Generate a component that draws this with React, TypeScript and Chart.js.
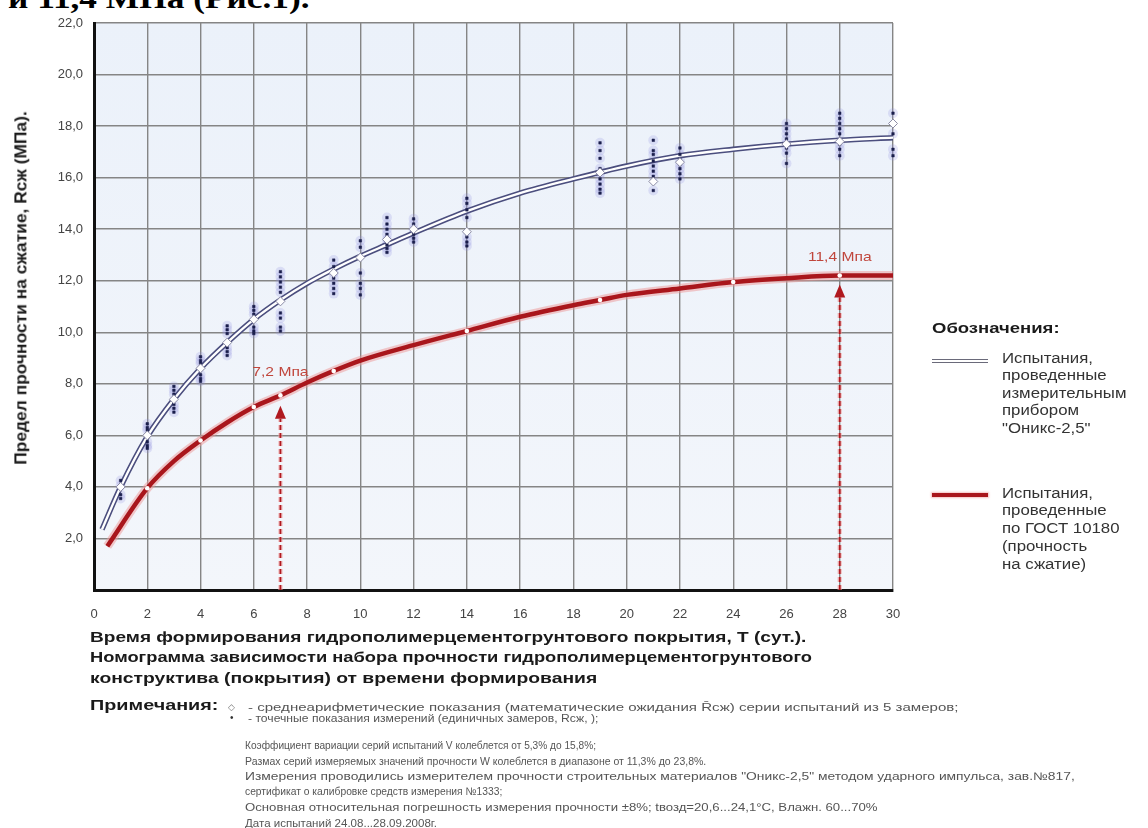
import React, { useEffect, useLayoutEffect, useRef, useState } from 'react';
import { Chart, registerables } from 'chart.js';

Chart.register(...registerables);

// ---- axes ----
const xMin = 0;
const xMax = 30;
const xStep = 2;
const yMin = 0;
const yMax = 22;
const yStep = 2;

// ---- "Оникс-2,5" fitted curve ----
const onyxX = [0.3, 1, 2, 3, 4, 5, 6, 7, 8, 9, 10, 11, 12, 14, 16, 18, 20, 22, 24, 26, 28, 30];
const onyxY = [2.35, 4.0, 5.95, 7.4, 8.6, 9.6, 10.5, 11.25, 11.9, 12.45, 12.95, 13.4, 13.85, 14.7, 15.4, 15.95, 16.45, 16.85, 17.1, 17.3, 17.45, 17.55];

// ---- ГОСТ 10180 curve ----
const gostX = [0.5, 2, 3, 4, 5, 6, 7, 8, 9, 10, 12, 14, 16, 18, 19, 20, 22, 24, 26, 28, 30];
const gostY = [1.7, 3.95, 5.0, 5.8, 6.5, 7.1, 7.55, 8.05, 8.5, 8.9, 9.5, 10.05, 10.6, 11.05, 11.25, 11.45, 11.7, 11.95, 12.1, 12.2, 12.2];
const gostBreakX = [2, 4, 6, 7, 9, 14, 19, 24, 28];

// ---- measurement series (single readings and means) ----
const seriesX = [1, 2, 3, 4, 5, 6, 7, 9, 10, 11, 12, 14, 19, 21, 22, 26, 28, 30];
const seriesReadings = [
  [4.25, 4.05, 3.7, 3.55],
  [6.45, 6.3, 6.2, 5.75, 5.6, 5.5],
  [7.9, 7.75, 7.6, 7.2, 7.05, 6.9],
  [9.05, 8.9, 8.8, 8.35, 8.2, 8.1],
  [10.25, 10.1, 9.95, 9.4, 9.25, 9.1],
  [11.0, 10.85, 10.7, 10.2, 10.05, 9.95],
  [12.35, 12.15, 11.95, 11.75, 11.55, 10.75, 10.55, 10.2, 10.05],
  [12.8, 12.55, 12.3, 12.1, 11.9, 11.7, 11.5],
  [13.55, 13.3, 12.3, 11.9, 11.7, 11.45],
  [14.45, 14.2, 14.0, 13.8, 13.6, 13.4, 13.25, 13.1],
  [14.4, 14.2, 14.0, 13.8, 13.65, 13.5],
  [15.2, 15.0, 14.75, 14.45, 13.7, 13.5, 13.35],
  [17.35, 17.05, 16.75, 16.35, 16.15, 15.95, 15.75, 15.55, 15.4],
  [17.45, 17.05, 16.9, 16.65, 16.45, 16.25, 16.05, 15.5],
  [17.15, 16.9, 16.7, 16.5, 16.35, 16.15, 15.95],
  [18.1, 17.9, 17.7, 17.5, 17.3, 17.15, 16.95, 16.55],
  [18.5, 18.3, 18.1, 17.9, 17.7, 17.3, 17.1, 16.85],
  [18.5, 17.7, 17.1, 16.85],
];
const seriesMeans = [4.0, 6.0, 7.4, 8.6, 9.6, 10.5, 11.2, 12.3, 12.9, 13.6, 14.0, 13.9, 16.2, 15.85, 16.6, 17.3, 17.4, 18.1];

// ---- arrows with annotations ----
const markerX = [7, 28];
const markerTip = [7.15, 11.85];
const markerLabel = ['7,2 Мпа', '11,4 Мпа'];
const markerLabelY = [8.45, 12.9];

const SANS = '"Liberation Sans", Arial, sans-serif';

const pts = (xs: number[], ys: number[]) => xs.map((x, i) => ({ x, y: ys[i] }));

const bgPlugin = {
  id: 'plotBg',
  beforeDraw(chart: any) {
    const { ctx, chartArea: a } = chart;
    ctx.save();
    const g = ctx.createLinearGradient(0, a.top, 0, a.bottom);
    g.addColorStop(0, '#ebf1fa');
    g.addColorStop(1, '#f3f6fb');
    ctx.fillStyle = g;
    ctx.fillRect(a.left, a.top, a.right - a.left, a.bottom - a.top);
    ctx.restore();
  },
};

const arrowPlugin = {
  id: 'arrows',
  afterDatasetsDraw(chart: any) {
    const { ctx } = chart;
    const xs = chart.scales.x;
    const ys = chart.scales.y;
    markerX.forEach((mx, i) => {
      const px = xs.getPixelForValue(mx);
      const py0 = ys.getPixelForValue(0);
      const pt = ys.getPixelForValue(markerTip[i]);
      const headH = 13;
      const headW = 5.5;
      ctx.save();
      ctx.setLineDash([5, 3]);
      ctx.strokeStyle = 'rgba(240,160,160,0.55)';
      ctx.lineWidth = 4.5;
      ctx.beginPath();
      ctx.moveTo(px, py0);
      ctx.lineTo(px, pt + headH);
      ctx.stroke();
      ctx.strokeStyle = '#b0191f';
      ctx.lineWidth = 1.8;
      ctx.beginPath();
      ctx.moveTo(px, py0);
      ctx.lineTo(px, pt + headH);
      ctx.stroke();
      ctx.setLineDash([]);
      ctx.fillStyle = '#b0191f';
      ctx.beginPath();
      ctx.moveTo(px, pt);
      ctx.lineTo(px - headW, pt + headH);
      ctx.lineTo(px + headW, pt + headH);
      ctx.closePath();
      ctx.fill();
      ctx.translate(px, ys.getPixelForValue(markerLabelY[i]));
      ctx.scale(1.2, 1);
      ctx.font = '13px ' + SANS;
      ctx.fillStyle = '#c0463c';
      ctx.textAlign = 'center';
      ctx.textBaseline = 'middle';
      ctx.fillText(markerLabel[i], 0, 0);
      ctx.restore();
    });
  },
};

type TxtProps = {
  text: string;
  x: number;
  y: number;
  w?: number;
  s?: number;
  font: string;
  color: string;
  rotate?: boolean;
  sy?: number;
};

function Txt({ text, x, y, w, s = 1.2, font, color, rotate = false, sy = 1 }: TxtProps) {
  const ref = useRef<HTMLDivElement>(null);
  const [sx, setSx] = useState(s);
  useLayoutEffect(() => {
    const measure = () => {
      if (w && ref.current && ref.current.offsetWidth > 0) setSx(w / ref.current.offsetWidth);
    };
    measure();
    const f: any = (document as any).fonts;
    if (f && f.ready) f.ready.then(measure);
  }, [text, w, font]);
  const style: React.CSSProperties = {
    position: 'absolute',
    left: x,
    top: y,
    font,
    lineHeight: 1,
    color,
    whiteSpace: 'nowrap',
    transformOrigin: rotate ? '50% 50%' : '0 50%',
    transform: rotate
      ? `translate(-50%, -50%) rotate(-90deg) scale(${sx}, ${sy})`
      : `translateY(-50%) scale(${sx}, ${sy})`,
  };
  return (
    <div ref={ref} style={style}>
      {text}
    </div>
  );
}

function ChartCanvas() {
  const canvasRef = useRef<HTMLCanvasElement>(null);
  useEffect(() => {
    if (!canvasRef.current) return;
    const readingPts = seriesX.flatMap((x, i) => seriesReadings[i].map((y) => ({ x, y })));
    const meanPts = pts(seriesX, seriesMeans);
    const onyxPts = pts(onyxX, onyxY);
    const gostPts = pts(gostX, gostY);
    const chart = new Chart(canvasRef.current, {
      type: 'scatter',
      data: {
        datasets: [
          {
            data: gostPts,
            showLine: true,
            borderColor: 'rgba(238,150,150,0.5)',
            borderWidth: 9,
            pointRadius: 0,
            cubicInterpolationMode: 'monotone',
            order: 20,
          } as any,
          {
            data: gostPts,
            showLine: true,
            borderColor: '#a9161c',
            borderWidth: 4.5,
            pointRadius: (c: any) => (c.raw && gostBreakX.includes(c.raw.x) ? 2.3 : 0),
            pointBackgroundColor: '#ffffff',
            pointBorderWidth: 0,
            cubicInterpolationMode: 'monotone',
            order: 19,
          },
          {
            data: readingPts,
            pointRadius: 5,
            pointBackgroundColor: 'rgba(140,140,225,0.22)',
            pointBorderWidth: 0,
            clip: 10,
            order: 18,
          },
          {
            data: onyxPts,
            showLine: true,
            borderColor: '#4b4e7e',
            borderWidth: 5.5,
            pointRadius: 0,
            cubicInterpolationMode: 'monotone',
            order: 17,
          },
          {
            data: onyxPts,
            showLine: true,
            borderColor: '#ffffff',
            borderWidth: 2.3,
            pointRadius: 0,
            cubicInterpolationMode: 'monotone',
            order: 16,
          },
          {
            data: readingPts,
            pointRadius: 1.8,
            pointStyle: 'rect',
            pointBackgroundColor: '#1b1f4d',
            pointBorderColor: '#1b1f4d',
            pointBorderWidth: 0.5,
            clip: 10,
            order: 15,
          },
          {
            data: meanPts,
            pointRadius: 4.5,
            pointStyle: 'rectRot',
            pointBackgroundColor: '#ffffff',
            pointBorderColor: '#8c8ca6',
            pointBorderWidth: 1,
            clip: 10,
            order: 14,
          },
        ],
      },
      options: {
        animation: false,
        responsive: false,
        devicePixelRatio: 1,
        events: [],
        layout: { padding: { left: 0, top: 23, right: 255, bottom: 208 } },
        plugins: { legend: { display: false }, tooltip: { enabled: false } },
        scales: {
          x: {
            type: 'linear',
            min: xMin,
            max: xMax,
            afterFit: (s: any) => {
              s.height = 30;
            },
            ticks: { stepSize: xStep, padding: 17, color: '#444', font: { family: SANS, size: 13 } },
            grid: { color: '#858585', lineWidth: 1.4, drawTicks: false },
            border: { display: true, color: '#111', width: 3 },
          },
          y: {
            type: 'linear',
            min: yMin,
            max: yMax,
            afterFit: (s: any) => {
              s.width = 94;
            },
            ticks: {
              stepSize: yStep,
              padding: 11,
              color: '#444',
              font: { family: SANS, size: 13 },
              callback: (v: any) => (Number(v) === 0 ? '' : Number(v).toFixed(1).replace('.', ',')),
            },
            grid: { color: '#858585', lineWidth: 1.4, drawTicks: false },
            border: { display: true, color: '#111', width: 3 },
          },
        },
      } as any,
      plugins: [bgPlugin, arrowPlugin],
    });
    return () => chart.destroy();
  }, []);
  return (
    <canvas
      ref={canvasRef}
      width={1148}
      height={828}
      style={{ position: 'absolute', left: 0, top: 0, width: 1148, height: 828 }}
    />
  );
}

const BOLD15 = 'bold 15px ' + SANS;
const NOTE = '11px ' + SANS;
const LEG = '14px ' + SANS;

export default function App() {
  return (
    <div
      style={{
        position: 'absolute',
        left: 0,
        top: 0,
        width: 1148,
        height: 828,
        overflow: 'hidden',
        background: '#ffffff',
      }}
    >
      <Txt text="и 11,4 МПа (Рис.1)." x={8} y={-2} w={302} font={'bold 29px "Liberation Serif", serif'} color="#000" />
      <ChartCanvas />
      <Txt
        text="Предел прочности на сжатие, Rсж (МПа)."
        x={20}
        y={288}
        w={353}
        rotate
        sy={1.2}
        font={'bold 14px ' + SANS}
        color="#1a1a1a"
      />

      <Txt text="Время формирования гидрополимерцементогрунтового покрытия, Т (сут.)." x={90} y={636} w={717} font={BOLD15} color="#1a1a1a" />
      <Txt text="Номограмма зависимости набора прочности гидрополимерцементогрунтового" x={90} y={656} w={722} font={BOLD15} color="#1a1a1a" />
      <Txt text="конструктива (покрытия) от времени формирования" x={90} y={677} w={507} font={BOLD15} color="#1a1a1a" />

      <Txt text="Примечания:" x={90} y={704} w={128} font={BOLD15} color="#1a1a1a" />
      <Txt text="◇" x={228} y={707} s={1} font={'9px "DejaVu Sans"'} color="#777" />
      <Txt text="- среднеарифметические показания (математические ожидания R̄сж) серии испытаний из 5 замеров;" x={248} y={707} w={710} font={NOTE} color="#555" />
      <Txt text="•" x={230} y={718} s={1} font={'10px ' + SANS} color="#333" />
      <Txt text="- точечные показания измерений (единичных замеров, Rсж, );" x={248} y={718} w={350} font={NOTE} color="#555" />
      <Txt text="Коэффициент вариации серий испытаний V колеблется от 5,3% до 15,8%;" x={245} y={745} w={351} font={NOTE} color="#555" />
      <Txt text="Размах серий измеряемых значений прочности W колеблется в диапазоне от 11,3% до 23,8%." x={245} y={761} w={461} font={NOTE} color="#555" />
      <Txt text={'Измерения проводились измерителем прочности строительных материалов "Оникс-2,5" методом ударного импульса, зав.№817,'} x={245} y={776} w={830} font={NOTE} color="#555" />
      <Txt text="сертификат о калибровке средств измерения №1333;" x={245} y={791} w={257} font={NOTE} color="#555" />
      <Txt text="Основная относительная погрешность измерения прочности ±8%; tвозд=20,6...24,1°С, Влажн. 60...70%" x={245} y={807} w={632} font={NOTE} color="#555" />
      <Txt text="Дата испытаний 24.08...28.09.2008г." x={245} y={823} w={192} font={NOTE} color="#555" />

      <Txt text="Обозначения:" x={932} y={327} w={127} font={BOLD15} color="#1a1a1a" />
      <div
        style={{
          position: 'absolute',
          left: 932,
          top: 359,
          width: 56,
          height: 2,
          borderTop: '1.5px solid #6a6a7a',
          borderBottom: '1.5px solid #6a6a7a',
          background: '#fff',
        }}
      />
      <Txt text="Испытания," x={1002} y={358} font={LEG} color="#333" />
      <Txt text="проведенные" x={1002} y={375} font={LEG} color="#333" />
      <Txt text="измерительным" x={1002} y={393} font={LEG} color="#333" />
      <Txt text="прибором" x={1002} y={410} font={LEG} color="#333" />
      <Txt text={'"Оникс-2,5"'} x={1002} y={428} font={LEG} color="#333" />

      <div
        style={{
          position: 'absolute',
          left: 932,
          top: 493,
          width: 56,
          height: 4,
          background: '#a9161c',
          boxShadow: '0 0 2px 1px rgba(238,150,150,0.6)',
        }}
      />
      <Txt text="Испытания," x={1002} y={493} font={LEG} color="#333" />
      <Txt text="проведенные" x={1002} y={510} font={LEG} color="#333" />
      <Txt text="по ГОСТ 10180" x={1002} y={528} font={LEG} color="#333" />
      <Txt text="(прочность" x={1002} y={546} font={LEG} color="#333" />
      <Txt text="на сжатие)" x={1002} y={564} font={LEG} color="#333" />
    </div>
  );
}
